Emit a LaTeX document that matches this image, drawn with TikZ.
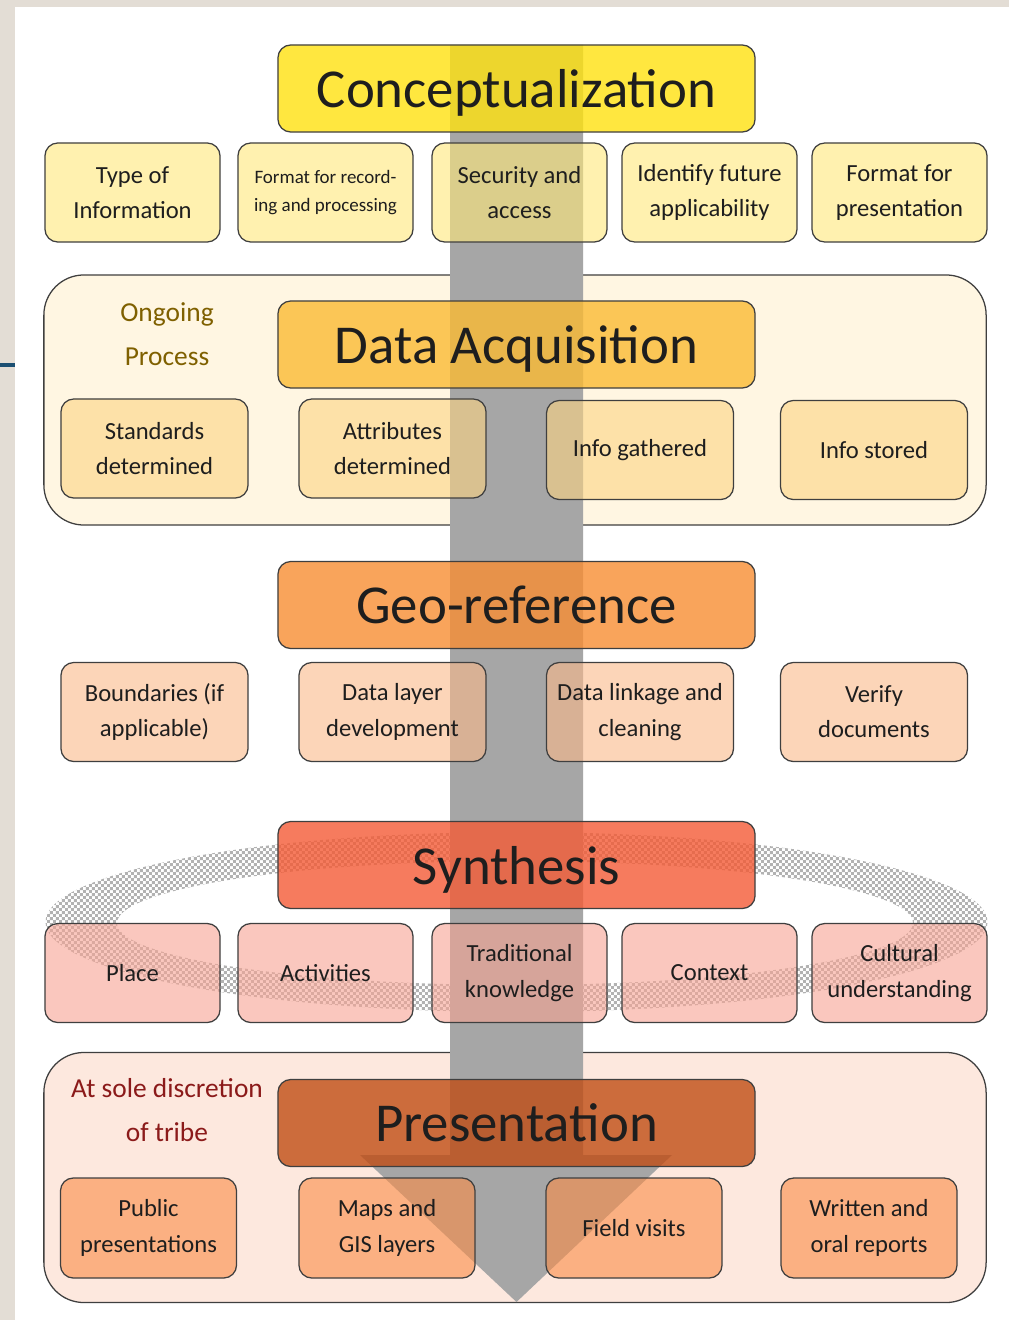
\documentclass[tikz,border=0pt]{standalone}
\usepackage{fontspec}
\setmainfont{Carlito}
\usetikzlibrary{positioning,patterns}

\definecolor{PageBand}{HTML}{E3DDD5}
\definecolor{SideMark}{HTML}{1B4F72}
\definecolor{ArrowGray}{HTML}{A6A6A6}
\definecolor{EdgeGray}{HTML}{3F3F3F}
\definecolor{TextDark}{HTML}{1E1E1E}
\definecolor{ConceptFill}{HTML}{FFE20F}
\definecolor{AcquireFill}{HTML}{FABA33}
\definecolor{GeoFill}{HTML}{F88E33}
\definecolor{SynthFill}{HTML}{F45B36}
\definecolor{PresentFill}{HTML}{C04D14}
\definecolor{RowOneFill}{HTML}{FFE97A}
\definecolor{RowTwoFill}{HTML}{FCD482}
\definecolor{RowThreeFill}{HTML}{FAB98A}
\definecolor{RowFourFill}{HTML}{F7A393}
\definecolor{RowFiveFill}{HTML}{FA8C46}
\definecolor{OngoingFill}{HTML}{FFF6E2}
\definecolor{DiscretionFill}{HTML}{FDE8DE}
\definecolor{OngoingText}{HTML}{7F6000}
\definecolor{DiscretionText}{HTML}{8B1A1A}

\pgfdeclarepatternformonly{fineChecker}{\pgfpointorigin}{\pgfqpoint{4.2pt}{4.2pt}}{\pgfqpoint{4.2pt}{4.2pt}}{
	\pgfpathrectangle{\pgfpointorigin}{\pgfqpoint{2.1pt}{2.1pt}}
	\pgfpathrectangle{\pgfqpoint{2.1pt}{2.1pt}}{\pgfqpoint{2.1pt}{2.1pt}}
	\pgfusepath{fill}
}

\tikzset{
	roundBox/.style={draw=EdgeGray, line width=0.9pt, rounded corners=0.32cm, fill opacity=0.6, text opacity=1, text=TextDark, align=center, inner sep=0pt},
	headBox/.style={roundBox, fill opacity=0.8, minimum width=11.925cm, minimum height=2.175cm, text depth=0pt, font=\fontsize{39}{39}\selectfont},
	subBox/.style={roundBox, minimum height=2.475cm, font=\fontsize{17.5}{25}\selectfont},
	narrowBox/.style={subBox, minimum width=4.375cm},
	wideBox/.style={subBox, minimum width=4.675cm},
	groupBox/.style={draw=EdgeGray, line width=0.9pt, rounded corners=1cm, minimum width=23.55cm, minimum height=6.25cm},
	groupLabel/.style={align=center, font=\fontsize{19.5}{31}\selectfont}
}

\begin{document}
\begin{tikzpicture}[x=0.025cm, y=-0.025cm]
	\useasboundingbox (0,0) rectangle (1009,1320);
	\fill[PageBand] (0,0) rectangle (1009,1320);
	\fill[white] (15,7) rectangle (1009,1320);
	\fill[SideMark] (0,363) rectangle (15,367);

	\node[groupBox, fill=OngoingFill] (OngoingGroup) at (515,400) {};
	\node[groupBox, fill=DiscretionFill] (DiscretionGroup) at (515,1177.5) {};

	\fill[pattern=fineChecker, pattern color=gray!60, even odd rule] (516.5,922) ellipse [x radius=471, y radius=90] (515,923) ellipse [x radius=398, y radius=62];

	\coordinate (ArrowTop) at (516.5,45);
	\coordinate (ArrowTip) at (516.5,1302);
	\fill[ArrowGray] (450,45) -- (583,45) -- (583,1155) -- (672,1155) -- (ArrowTip) -- (360,1155) -- (450,1155) -- cycle;

	\node[headBox, fill=ConceptFill] (Concept) at (516.5,88.5) {Conceptualization};
	\node[narrowBox, fill=RowOneFill] (TypeInfo) at (132.5,192.5) {Type of\\Information};
	\node[narrowBox, fill=RowOneFill, font=\fontsize{13.5}{20}\selectfont] (FormatRecord) at (325.5,192.5) {Format for record-\\ing and processing};
	\node[narrowBox, fill=RowOneFill] (Security) at (519.5,192.5) {Security and\\access};
	\node[narrowBox, fill=RowOneFill] (FutureUse) at (709.5,192.5) {Identify future\\applicability};
	\node[narrowBox, fill=RowOneFill] (FormatPresent) at (899.5,192.5) {Format for\\presentation};

	\node[groupLabel, text=OngoingText] (OngoingLabel) at (167,334) {Ongoing\\Process};
	\node[headBox, fill=AcquireFill] (Acquire) at (516.5,344.5) {Data Acquisition};
	\node[wideBox, fill=RowTwoFill] (Standards) at (154.5,448.5) {Standards\\determined};
	\node[wideBox, fill=RowTwoFill] (Attributes) at (392.5,448.5) {Attributes\\determined};
	\node[wideBox, fill=RowTwoFill] (Gathered) at (640,450) {Info gathered};
	\node[wideBox, fill=RowTwoFill] (Stored) at (874,450) {Info stored};

	\node[headBox, fill=GeoFill] (GeoRef) at (516.5,605) {Geo-reference};
	\node[wideBox, fill=RowThreeFill] (Boundaries) at (154.5,712) {Boundaries (if\\applicable)};
	\node[wideBox, fill=RowThreeFill] (DataLayer) at (392.5,712) {Data layer\\development};
	\node[wideBox, fill=RowThreeFill] (Linkage) at (640,712) {Data linkage and\\cleaning};
	\node[wideBox, fill=RowThreeFill] (Verify) at (874,712) {Verify\\documents};

	\node[headBox, fill=SynthFill] (Synth) at (516.5,865) {Synthesis};
	\node[narrowBox, fill=RowFourFill] (Place) at (132.5,973) {Place};
	\node[narrowBox, fill=RowFourFill] (Activities) at (325.5,973) {Activities};
	\node[narrowBox, fill=RowFourFill] (Traditional) at (519.5,973) {Traditional\\knowledge};
	\node[narrowBox, fill=RowFourFill] (Context) at (709.5,973) {Context};
	\node[narrowBox, fill=RowFourFill] (Cultural) at (899.5,973) {Cultural\\understanding};

	\node[groupLabel, text=DiscretionText] (DiscretionLabel) at (167,1110) {At sole discretion\\of tribe};
	\node[headBox, fill=PresentFill] (Present) at (516.5,1123) {Presentation};
	\node[narrowBox, minimum width=4.4cm, minimum height=2.5cm, fill=RowFiveFill] (Public) at (148.5,1228) {Public\\presentations};
	\node[narrowBox, minimum width=4.4cm, minimum height=2.5cm, fill=RowFiveFill] (MapsGis) at (387,1228) {Maps and\\GIS layers};
	\node[narrowBox, minimum width=4.4cm, minimum height=2.5cm, fill=RowFiveFill] (FieldVisits) at (634,1228) {Field visits};
	\node[narrowBox, minimum width=4.4cm, minimum height=2.5cm, fill=RowFiveFill] (Reports) at (869,1228) {Written and\\oral reports};
\end{tikzpicture}
\end{document}
